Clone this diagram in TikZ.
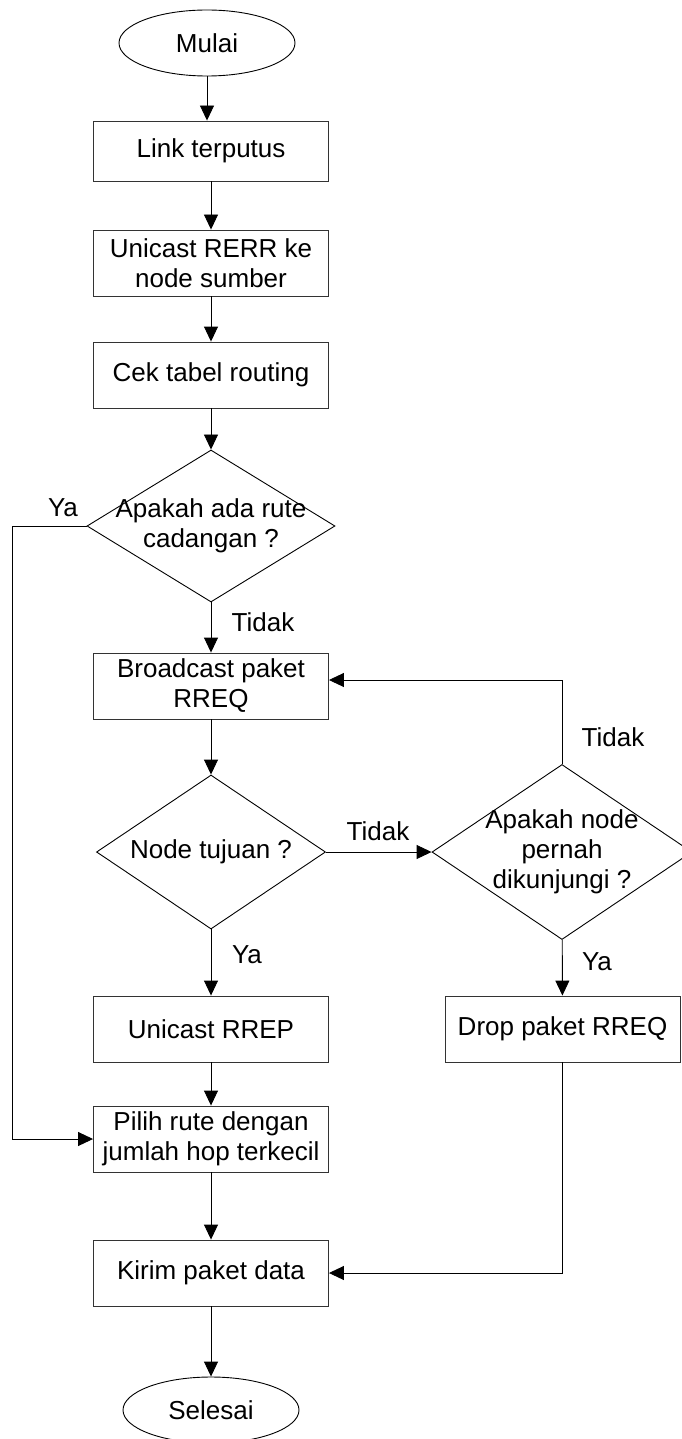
\documentclass[tikz,border=0pt]{standalone}
\usepackage{fontspec}
\setmainfont{Liberation Sans}
\usetikzlibrary{arrows.meta, positioning, shapes.geometric}

\begin{document}
\begin{tikzpicture}[
  x=1pt, y=-1pt,
  font=\fontsize{26}{30}\selectfont,
  line width=0.9pt,
  terminal/.style={ellipse, draw, minimum width=176pt, minimum height=66pt,
                   inner sep=0pt},
  process/.style={rectangle, draw=black!80, minimum width=235pt,
                  minimum height=66pt, inner sep=0pt, align=center},
  decision/.style={diamond, draw, inner sep=0pt},
  arrow/.style={-{Triangle[length=15pt, width=14pt]}},
]

\useasboundingbox (0,0) rectangle (681,1439);

% ---- langkah ----
\node[terminal] (mulai) at (207,43) {Mulai};
\node[process, minimum height=60pt] (putus) at (211,151) {Link terputus};
\node[process] (rerr) at (211,263) {Unicast RERR ke\\node sumber};
\node[process] (cek)  at (211,375) {Cek tabel routing};
\node[decision, minimum width=248pt, minimum height=152pt,
      label={[align=center]center:{Apakah ada rute\\cadangan ?}}]
      (cadangan) at (211,526) {};
\node[process] (bcast) at (211,686) {Broadcast paket\\RREQ};
\node[decision, minimum width=229pt, minimum height=154pt,
      label={[align=center]center:{Node tujuan ?}}]
      (tujuan) at (211,852) {};
\node[decision, minimum width=260pt, minimum height=175pt,
      label={[align=center]center:{Apakah node\\pernah\\dikunjungi ?}}]
      (dikunjungi) at (562,852) {};
\node[process] (rrep)  at (211,1029)   {Unicast RREP};
\node[process] (drop)  at (562.5,1029) {Drop paket RREQ};
\node[process] (pilih) at (211,1139)   {Pilih rute dengan\\jumlah hop terkecil};
\node[process] (kirim) at (211,1273)   {Kirim paket data};
\node[terminal] (selesai) at (211,1410) {Selesai};

\coordinate (ya-kiri) at (12,526);

% ---- alur ----
\draw[arrow] (mulai) -- (mulai |- putus.north);
\draw[arrow] (putus) -- (rerr);
\draw[arrow] (rerr)  -- (cek);
\draw[arrow] (cek)   -- (cadangan);
\draw[arrow] (cadangan) -- (bcast);
\draw[arrow] (cadangan.west) -- (ya-kiri) |- (pilih.west);
\draw[arrow] (bcast) -- (tujuan);
\draw[arrow] (tujuan) -- (rrep);
\draw[arrow] (tujuan.east) -- (dikunjungi.west);
\draw[arrow] (dikunjungi.north) |- ([yshift=6pt]bcast.east);
\draw[arrow] (dikunjungi) -- (drop);
\draw[arrow] (drop.south) |- (kirim.east);
\draw[arrow] (rrep)  -- (pilih);
\draw[arrow] (pilih) -- (kirim);
\draw[arrow] (kirim) -- (selesai);

% ---- keterangan ----
\node (ya-1)    at (63,508)  {Ya};
\node (tidak-1) at (263,622) {Tidak};
\node (tidak-2) at (378,831) {Tidak};
\node (tidak-3) at (613,737) {Tidak};
\node (ya-2)    at (247,955) {Ya};
\node (ya-3)    at (597,962) {Ya};

\end{tikzpicture}
\end{document}
